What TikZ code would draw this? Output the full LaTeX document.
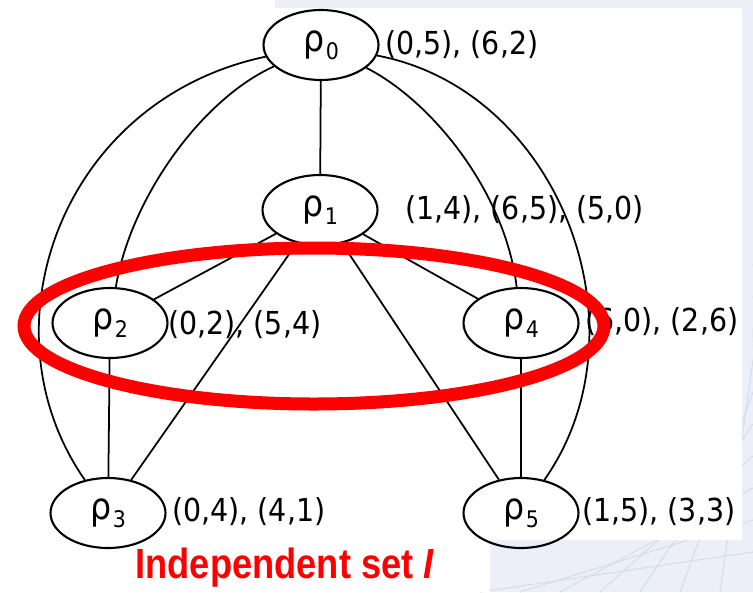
\documentclass[tikz,border=0pt]{standalone}
\usepackage{fontspec}
\setmainfont{DejaVu Sans}[FakeStretch=0.9]
\newfontfamily\capfont{Liberation Sans}[FakeStretch=0.86]
\usepackage{xcolor}
\usetikzlibrary{shapes.geometric}

\definecolor{slidebg}{RGB}{236,239,247}
\definecolor{slideline}{RGB}{214,220,236}
\definecolor{setred}{RGB}{255,0,0}

% rho with a lowered index
\newcommand{\rh}[1]{{\fontsize{21}{21}\selectfont ρ}\kern1pt\raisebox{-4.5pt}{\fontsize{13}{13}\selectfont #1}}

\begin{document}
\begin{tikzpicture}[
    x=0.02cm, y=-0.02cm,
    vertex/.style={draw, ellipse, line width=1.2pt, inner sep=0pt,
        minimum width=2.3cm, minimum height=1.4cm},
    pairs/.style={anchor=west, inner sep=0pt, font=\fontsize{18}{18}\selectfont},
    edge/.style={line width=1pt}
]

\useasboundingbox (0,0) rectangle (753,592);

% --- 1. Slide background and white panel ---
\fill[slidebg] (0,0) rectangle (753,592);
\foreach \s in {0,40,...,360}{
    \draw[slideline, line width=0.6pt] (480+\s,592) -- (753,592-0.8*\s-40);
}
\fill[white] (0,0) -- (275,0) -- (275,8) -- (742,8) -- (742,540)
    -- (490,540) -- (490,592) -- (0,592) -- cycle;

% --- 2. Vertices ---
\foreach \n/\x/\y in {0/321/45, 1/320/210, 2/110/323, 4/521/323, 3/108/513, 5/521/513}{
    \node[vertex] (r\n) at (\x,\y) {\rh{\n}};
}

% --- 3. Coordinate pairs next to each vertex ---
\foreach \n/\x/\y/\txt in {
    0/385/45/{(0,5), (6,2)},
    1/405/210/{(1,4), (6,5), (5,0)},
    2/168/325/{(0,2), (5,4)},
    4/585/322/{(6,0), (2,6)},
    3/172/512/{(0,4), (4,1)},
    5/582/512/{(1,5), (3,3)}
}{
    \node[pairs] (l\n) at (\x,\y) {\txt};
}

% --- 4. Edges ---
\foreach \a/\b in {0/1, 1/2, 1/3, 1/4, 1/5, 2/3, 4/5}{
    \draw[edge] (r\a) -- (r\b);
}

% bent edges from the top vertex
\draw[edge] (r0) .. controls (60,100) and (-20,330) .. (r3);
\draw[edge] (r0) .. controls (200,100) and (130,200) .. (r2);
\draw[edge] (r0) .. controls (430,100) and (505,190) .. (r4);
\draw[edge] (r0) .. controls (560,90) and (650,330) .. (r5);

% --- 5. Independent set ---
\draw[setred, line width=7.4pt] (314,326) ellipse [x radius=290, y radius=78];
\node[text=setred, font=\capfont\bfseries\fontsize{24}{24}\selectfont] (iset) at (285,568)
    {Independent set \textit{I}};

\end{tikzpicture}
\end{document}
